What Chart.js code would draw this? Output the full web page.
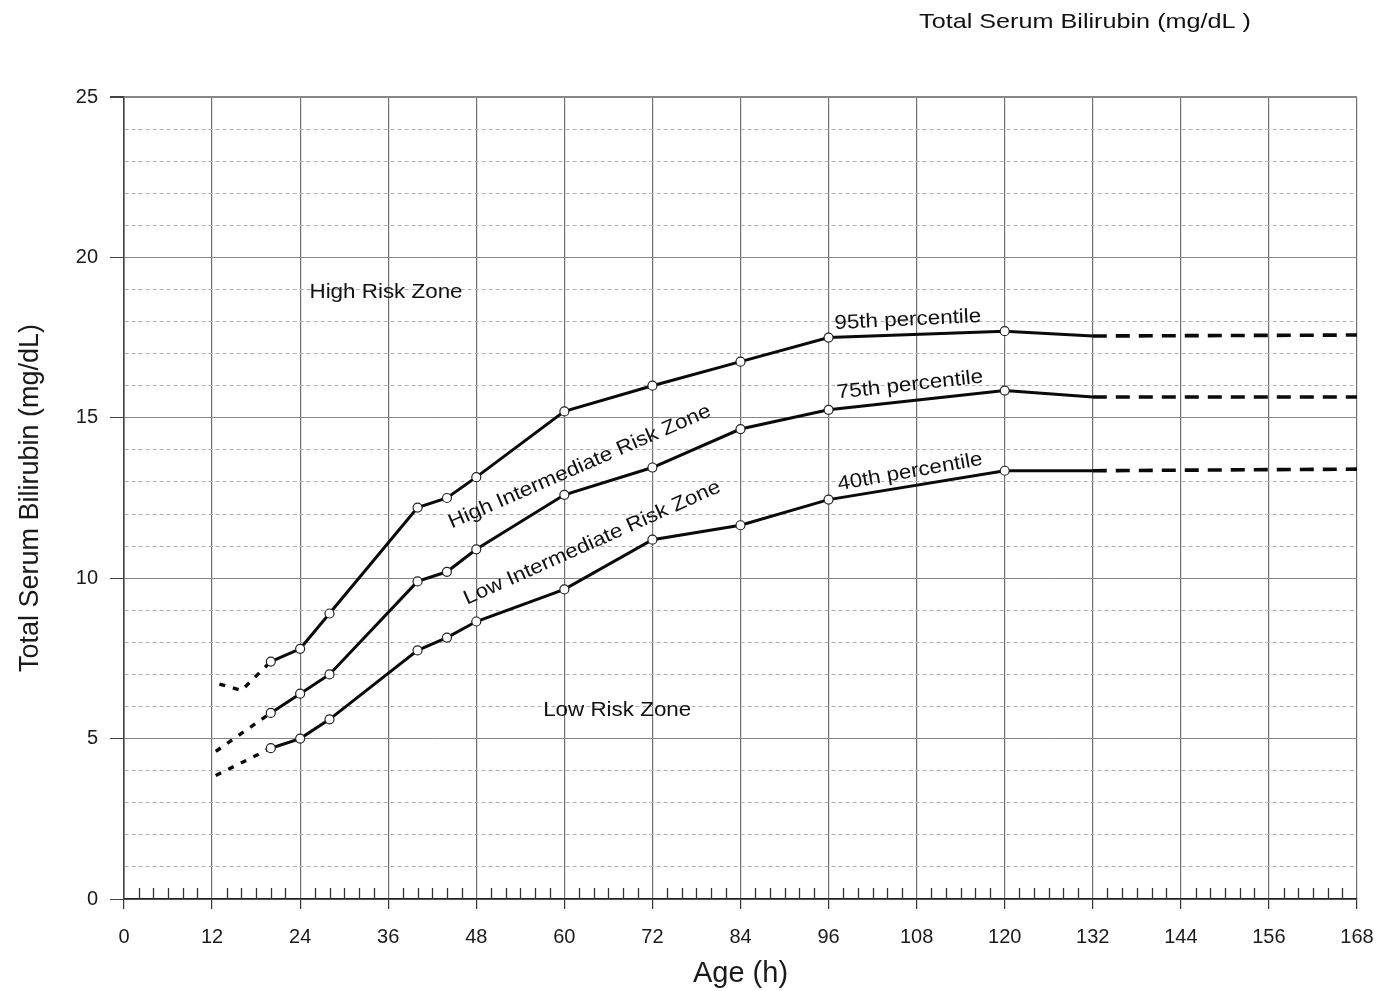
<!DOCTYPE html>
<html><head><meta charset="utf-8">
<script src="https://cdn.jsdelivr.net/npm/chart.js@4/dist/chart.umd.min.js"></script>
<style>html,body{margin:0;padding:0;background:#fff}</style>
</head><body>
<canvas id="c" width="1382" height="991"></canvas>
<script>
// ---- data ----
const hours = [20, 24, 28, 40, 44, 48, 60, 72, 84, 96, 120, 132];
const p95 = [7.4, 7.8, 8.9, 12.2, 12.5, 13.15, 15.2, 16.0, 16.75, 17.5, 17.7, 17.55];
const p75 = [5.8, 6.4, 7.0, 9.9, 10.2, 10.9, 12.6, 13.45, 14.65, 15.25, 15.85, 15.65];
const p40 = [4.7, 5.0, 5.6, 7.75, 8.15, 8.65, 9.65, 11.2, 11.65, 12.45, 13.35, 13.35];

const earlyHours95 = [13, 16, 20];
const early95 = [6.7, 6.5, 7.4];
const earlyHours = [12.5, 20];
const early75 = [4.6, 5.8];
const early40 = [3.85, 4.7];

const lateHours = [132, 168];
const late95 = [17.55, 17.58];
const late75 = [15.65, 15.65];
const late40 = [13.35, 13.4];

const xTickLabels = [0, 12, 24, 36, 48, 60, 72, 84, 96, 108, 120, 132, 144, 156, 168];
const yTickLabels = [0, 5, 10, 15, 20, 25];
const minorHours = [2,4,6,8,10,14,16,18,20,22,26,28,30,32,34,38,40,42,44,46,50,52,54,56,58,62,64,66,68,70,74,76,78,80,82,86,88,90,92,94,98,100,102,104,106,110,112,114,116,118,122,124,126,128,130,134,136,138,140,142,146,148,150,152,154,158,160,162,164,166];

const zoneLabels = [
  {text: 'High Risk Zone', x: 35.7, y: 18.92, angle: 0},
  {text: 'High Intermediate Risk Zone', x: 62.1, y: 13.47, angle: -23.5},
  {text: 'Low Intermediate Risk Zone', x: 63.8, y: 11.1, angle: -24},
  {text: 'Low Risk Zone', x: 67.2, y: 5.89, angle: 0},
  {text: '95th percentile', x: 106.8, y: 18.05, angle: -2.8},
  {text: '75th percentile', x: 107.1, y: 16.02, angle: -6.3},
  {text: '40th percentile', x: 107.1, y: 13.31, angle: -10}
];
const topTitle = 'Total Serum Bilirubin (mg/dL )';

// ---- helpers ----
const pts = (xs, ys) => xs.map((x, i) => ({x, y: ys[i]}));
const FONT = "'Liberation Sans', Arial, sans-serif";
const radii = hours.map((h, i) => i === hours.length - 1 ? 0 : 4.5);

function solid(vals) {
  return {data: pts(hours, vals), borderColor: '#0a0a0a', borderWidth: 3, order: 0,
    pointRadius: radii, pointBackgroundColor: '#fff', pointBorderColor: '#222',
    pointBorderWidth: 1.2, tension: 0, fill: false};
}
function early(xs, vals) {
  return {data: pts(xs, vals), borderColor: '#0a0a0a', borderWidth: 3.4, borderDash: [6, 8], order: 1,
    pointRadius: 0, tension: 0, fill: false};
}
function late(vals) {
  return {data: pts(lateHours, vals), borderColor: '#0a0a0a', borderWidth: 3.6, borderDash: [14, 9], order: 1,
    pointRadius: 0, tension: 0, fill: false};
}

const extras = {
  id: 'extras',
  beforeDatasetsDraw(chart) {
    const {ctx, scales: {x, y}} = chart;
    ctx.save();
    ctx.strokeStyle = '#333';
    ctx.lineWidth = 1.3;
    const y0 = y.getPixelForValue(0);
    minorHours.forEach(h => {
      const px = Math.round(x.getPixelForValue(h)) + 0.5;
      ctx.beginPath(); ctx.moveTo(px, y0); ctx.lineTo(px, y0 - 11); ctx.stroke();
    });
    ctx.restore();
  },
  afterDatasetsDraw(chart) {
    const {ctx, scales: {x, y}} = chart;
    ctx.save();
    ctx.fillStyle = '#111';
    ctx.font = '20px ' + FONT;
    ctx.textAlign = 'center';
    ctx.textBaseline = 'middle';
    zoneLabels.forEach(l => {
      ctx.save();
      ctx.translate(x.getPixelForValue(l.x), y.getPixelForValue(l.y));
      ctx.rotate(l.angle * Math.PI / 180);
      ctx.scale(1.12, 1);
      ctx.fillText(l.text, 0, 0);
      ctx.restore();
    });
    ctx.font = '21px ' + FONT;
    ctx.save();
    ctx.translate(1085, 22);
    ctx.scale(1.2, 1);
    ctx.fillText(topTitle, 0, 0);
    ctx.restore();
    ctx.restore();
  }
};

new Chart(document.getElementById('c'), {
  type: 'line',
  data: {
    datasets: [
      early(earlyHours95, early95), solid(p95), late(late95),
      early(earlyHours, early75), solid(p75), late(late75),
      early(earlyHours, early40), solid(p40), late(late40)
    ]
  },
  options: {
    responsive: false,
    animation: false,
    layout: {padding: {left: 0, right: 25, top: 97, bottom: 0}},
    plugins: {legend: {display: false}, tooltip: {enabled: false}, title: {display: false}},
    scales: {
      x: {
        type: 'linear', min: 0, max: 168,
        afterBuildTicks: s => { s.ticks = xTickLabels.map(v => ({value: v})); },
        ticks: {autoSkip: false, maxRotation: 0, color: '#1a1a1a', font: {family: FONT, size: 20}, padding: 16},
        grid: {color: '#707070', lineWidth: 1.2, tickLength: 10, tickColor: '#333'},
        border: {color: '#222', width: 1.6},
        title: {display: true, text: 'Age (h)', color: '#1a1a1a', font: {family: FONT, size: 29}, padding: {top: 0, bottom: 0}},
        afterFit: s => { s.height = 92; s.paddingRight = 0; s.paddingLeft = 0; }
      },
      y: {
        min: 0, max: 25,
        ticks: {stepSize: 1, autoSkip: false, color: '#1a1a1a', font: {family: FONT, size: 20}, padding: 12,
          callback: v => yTickLabels.includes(v) ? String(v) : ''},
        grid: {
          color: c => (c.tick && c.tick.value % 5 === 0) ? '#888' : '#b0b0b0',
          lineWidth: c => (c.tick && c.tick.value === 25) ? 2 : 1,
          tickLength: 14,
          tickColor: c => (c.tick && c.tick.value % 5 === 0) ? '#444' : 'rgba(0,0,0,0)'
        },
        border: {color: '#444', width: 1.6, dash: c => (c.tick && c.tick.value % 5 !== 0) ? [4, 3] : []},
        title: {display: true, text: 'Total Serum Bilirubin (mg/dL)', color: '#1a1a1a', font: {family: FONT, size: 27}, padding: {top: 14, bottom: 0}},
        afterFit: s => { s.width = 124; }
      }
    }
  },
  plugins: [extras]
});
</script>
</body></html>
